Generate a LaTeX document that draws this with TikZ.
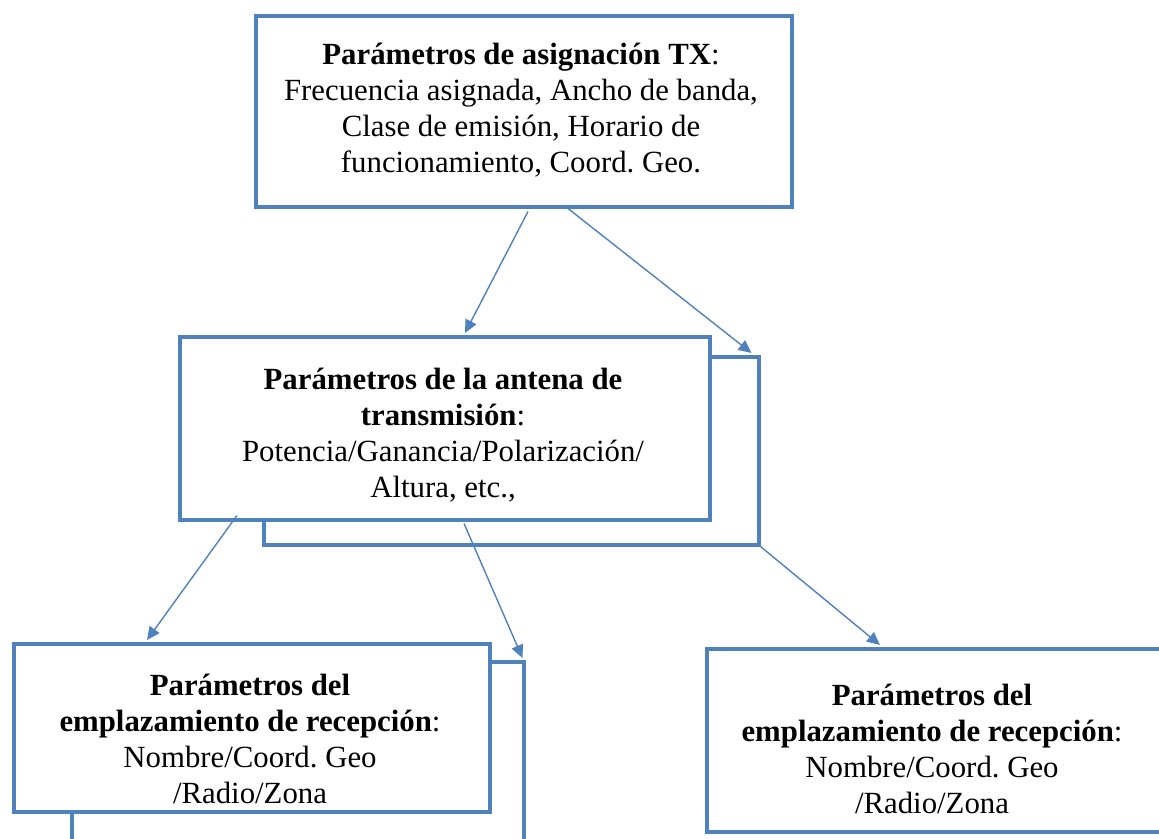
\documentclass[tikz,border=0pt]{standalone}
\usepackage{fontspec}
\setmainfont{Liberation Serif}
\usetikzlibrary{arrows.meta,calc}
\definecolor{boxblue}{HTML}{4F81BD}
\frenchspacing
\tikzset{
  boxframe/.style={draw=boxblue, line width=3.5pt, fill=white, inner sep=0pt, anchor=north west},
  shadowframe/.style={draw=boxblue, line width=3.5pt, inner sep=0pt, anchor=north west},
  boxtext/.style={align=center, inner sep=0pt, font=\fontsize{30.8}{36}\selectfont},
  conn/.style={draw=boxblue, line width=1.4pt, -{Triangle[length=13pt,width=12pt]}},
}
\begin{document}
\begin{tikzpicture}[x=1pt,y=-1pt]
\useasboundingbox (0,0) rectangle (1159,838);
\begin{scope}
\clip (0,0) rectangle (1159,838);
% top box
\node[boxframe, minimum width=536pt, minimum height=191pt] (top) at (254,14) {};
\node[boxtext] (toptxt) at (521,110) {\textbf{Parámetros de asignación TX}:\\Frecuencia asignada, Ancho de banda,\\Clase de emisión, Horario de\\funcionamiento, Coord. Geo.};
% middle box with shadow
\node[shadowframe, minimum width=495pt, minimum height=188pt] (midsh) at (262,355) {};
\node[boxframe, minimum width=530pt, minimum height=183pt] (mid) at (178,335) {};
\node[boxtext] (midtxt) at (443,435) {\textbf{Parámetros de la antena de}\\\textbf{transmisión}:\\Potencia/Ganancia/Polarización/\\Altura, etc.,};
% bottom-left box with shadow
\node[shadowframe, minimum width=452pt, minimum height=200pt] (blsh) at (70,660) {};
\node[boxframe, minimum width=476pt, minimum height=168pt] (bl) at (12,642) {};
\node[boxtext] (bltxt) at (250,739) {\textbf{Parámetros del}\\\textbf{emplazamiento de recepción}:\\Nombre/Coord. Geo\\/Radio/Zona};
% bottom-right box
\node[boxframe, minimum width=470pt, minimum height=183pt] (br) at (705,647) {};
\node[boxtext] (brtxt) at (932,749) {\textbf{Parámetros del}\\\textbf{emplazamiento de recepción}:\\Nombre/Coord. Geo\\/Radio/Zona};
% connectors
\coordinate (a1s) at ($(top.south west)+(274,3)$);
\coordinate (a2s) at ($(top.south west)+(314,0)$);
\coordinate (a3s) at ($(mid.south west)+(59,-6)$);
\coordinate (a4s) at ($(mid.south west)+(286,2)$);
\draw[conn] (a1s) -- ($(mid.north west)+(287,-2)$);
\draw[conn] (a2s) -- ($(midsh.north east)+(-9,-2)$);
\draw[conn] (a3s) -- ($(bl.north west)+(135,-2)$);
\draw[conn] (a4s) -- ($(blsh.north east)+(-3,-2)$);
\draw[conn] (midsh.south east) -- ($(br.north west)+(175,-2)$);
\end{scope}
\end{tikzpicture}
\end{document}
